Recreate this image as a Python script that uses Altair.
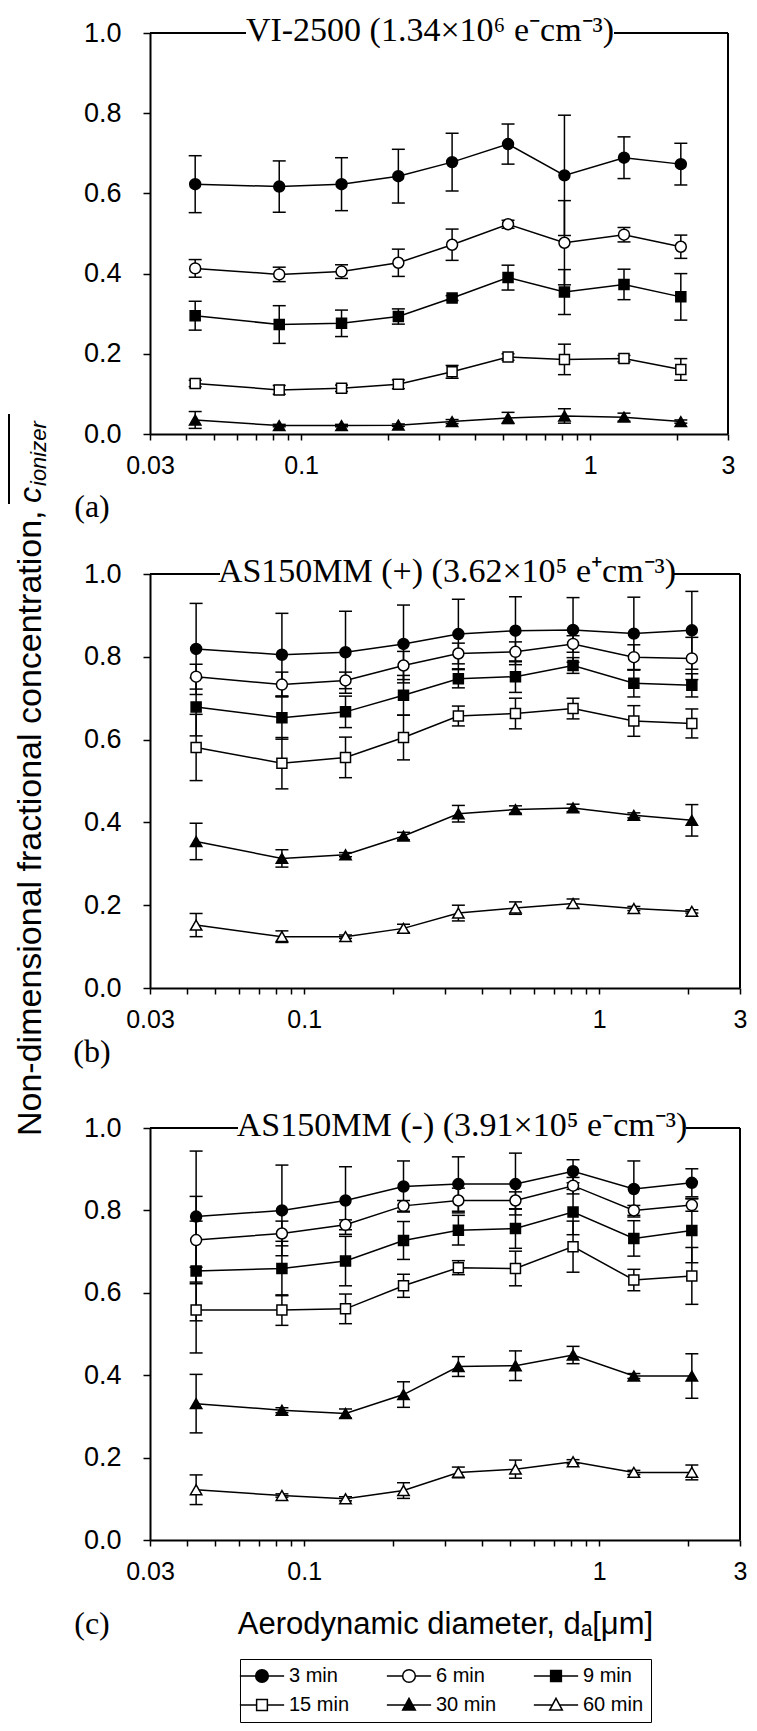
import altair as alt
import pandas as pd

# ---------------- data ----------------
DIAM = [0.043, 0.084, 0.138, 0.217, 0.333, 0.52, 0.815, 1.31, 2.06]
SERIES = ["3 min", "6 min", "9 min", "15 min", "30 min", "60 min"]

A_MEAN = {
    "3 min": [0.623, 0.617, 0.623, 0.643, 0.678, 0.723, 0.645, 0.689, 0.673],
    "6 min": [0.413, 0.398, 0.405, 0.427, 0.472, 0.523, 0.477, 0.497, 0.467],
    "9 min": [0.295, 0.273, 0.276, 0.293, 0.339, 0.390, 0.354, 0.373, 0.342],
    "15 min": [0.126, 0.110, 0.114, 0.124, 0.155, 0.192, 0.186, 0.188, 0.161],
    "30 min": [0.035, 0.021, 0.021, 0.022, 0.031, 0.040, 0.045, 0.042, 0.031],
}
A_ERR = {
    "3 min": [0.071, 0.064, 0.066, 0.067, 0.072, 0.050, 0.150, 0.052, 0.052],
    "6 min": [0.022, 0.018, 0.017, 0.034, 0.039, 0.010, 0.105, 0.018, 0.029],
    "9 min": [0.036, 0.047, 0.033, 0.019, 0.006, 0.031, 0.056, 0.038, 0.058],
    "15 min": [0.008, 0.011, 0.008, 0.011, 0.016, 0.008, 0.038, 0.008, 0.027],
    "30 min": [0.021, 0.003, 0.003, 0.003, 0.005, 0.014, 0.018, 0.010, 0.004],
}
B_MEAN = {
    "3 min": [0.819, 0.805, 0.811, 0.831, 0.855, 0.863, 0.865, 0.856, 0.864],
    "6 min": [0.752, 0.733, 0.743, 0.779, 0.808, 0.812, 0.831, 0.799, 0.796],
    "9 min": [0.679, 0.653, 0.667, 0.707, 0.747, 0.752, 0.779, 0.736, 0.731],
    "15 min": [0.581, 0.543, 0.557, 0.605, 0.657, 0.663, 0.675, 0.645, 0.639],
    "30 min": [0.354, 0.313, 0.322, 0.367, 0.421, 0.431, 0.435, 0.417, 0.405],
    "60 min": [0.152, 0.124, 0.124, 0.144, 0.181, 0.193, 0.204, 0.192, 0.185],
}
B_ERR = {
    "3 min": [0.110, 0.100, 0.099, 0.094, 0.084, 0.082, 0.078, 0.088, 0.094],
    "6 min": [0.030, 0.030, 0.020, 0.034, 0.025, 0.024, 0.020, 0.030, 0.051],
    "9 min": [0.070, 0.052, 0.038, 0.048, 0.022, 0.038, 0.019, 0.033, 0.028],
    "15 min": [0.080, 0.062, 0.049, 0.054, 0.024, 0.037, 0.025, 0.037, 0.035],
    "30 min": [0.044, 0.021, 0.005, 0.009, 0.020, 0.009, 0.009, 0.006, 0.038],
    "60 min": [0.028, 0.014, 0.004, 0.010, 0.019, 0.015, 0.011, 0.005, 0.004],
}
C_MEAN = {
    "3 min": [0.785, 0.800, 0.824, 0.858, 0.864, 0.864, 0.895, 0.852, 0.867],
    "6 min": [0.728, 0.744, 0.765, 0.811, 0.824, 0.824, 0.860, 0.800, 0.813],
    "9 min": [0.653, 0.659, 0.677, 0.727, 0.752, 0.756, 0.796, 0.732, 0.751],
    "15 min": [0.558, 0.558, 0.561, 0.617, 0.661, 0.659, 0.712, 0.631, 0.641],
    "30 min": [0.331, 0.315, 0.307, 0.353, 0.421, 0.423, 0.449, 0.398, 0.398],
    "60 min": [0.122, 0.108, 0.100, 0.120, 0.164, 0.172, 0.190, 0.164, 0.164],
}
C_ERR = {
    "3 min": [0.159, 0.110, 0.082, 0.062, 0.066, 0.075, 0.028, 0.068, 0.034],
    "6 min": [0.106, 0.030, 0.012, 0.013, 0.030, 0.021, 0.020, 0.012, 0.015],
    "9 min": [0.121, 0.066, 0.060, 0.046, 0.036, 0.048, 0.055, 0.043, 0.078],
    "15 min": [0.104, 0.037, 0.036, 0.028, 0.017, 0.042, 0.062, 0.026, 0.069],
    "30 min": [0.071, 0.006, 0.011, 0.031, 0.024, 0.036, 0.021, 0.006, 0.054],
    "60 min": [0.036, 0.004, 0.005, 0.019, 0.013, 0.022, 0.005, 0.005, 0.018],
}

TITLES = [
    "VI-2500 (1.34×10⁶ e⁻cm⁻³)",
    "AS150MM (+) (3.62×10⁵ e⁺cm⁻³)",
    "AS150MM (-) (3.91×10⁵ e⁻cm⁻³)",
]
TAGS = ["(a)", "(b)", "(c)"]
XTICKS = [0.03, 0.04, 0.05, 0.06, 0.07, 0.08, 0.09, 0.1, 0.2, 0.3, 0.4, 0.5,
          0.6, 0.7, 0.8, 0.9, 1, 2, 3]
XLABELED = [0.03, 0.1, 1, 3]
YTICKS = [0.0, 0.2, 0.4, 0.6, 0.8, 1.0]
X_TITLE = "Aerodynamic diameter, dₐ[μm]"
Y_TITLE = "Non-dimensional fractional concentration,"
Y_SYM = "c"
Y_SUB = "ionizer"

# ---------------- styling ----------------
SANS = "Liberation Sans, Arial, Helvetica, sans-serif"
SERIF = "Liberation Serif, Times New Roman, serif"
SHAPES = ["circle", "circle", "square", "square", "triangle-up", "triangle-up"]
FILLS = ["black", "white", "black", "white", "black", "white"]
SIZES = [120, 120, 100, 100, 130, 130]
LEG_PATHS = [
    "M-1,0A1,1,0,1,1,1,0A1,1,0,1,1,-1,0Z M-3.5,0H-1 M1,0H3.5",
    "M-1,0A1,1,0,1,1,1,0A1,1,0,1,1,-1,0Z M-3.5,0H-1 M1,0H3.5",
    "M-0.85,-0.85H0.85V0.85H-0.85Z M-3.5,0H-0.85 M0.85,0H3.5",
    "M-0.85,-0.85H0.85V0.85H-0.85Z M-3.5,0H-0.85 M0.85,0H3.5",
    "M0,-1.05L1,0.8H-1Z M-3.5,0H-0.57 M0.57,0H3.5",
    "M0,-1.05L1,0.8H-1Z M-3.5,0H-0.57 M0.57,0H3.5",
]

XLAB_EXPR = ("indexof([" + ",".join(str(v) for v in XLABELED) +
             "], datum.value) >= 0 ? format(datum.value, '~g') : ''")


def long_df(mean, err):
    rows = []
    for s in SERIES:
        if s not in mean:
            continue
        for d, v, e in zip(DIAM, mean[s], err[s]):
            rows.append({"d": d, "series": s, "v": v, "lo": v - e, "hi": v + e})
    return pd.DataFrame(rows)


def panel(df, title, tag, W, H, gap, title_x, tag_y, x_title=None, extras=None):
    xaxis_kw = dict(values=XTICKS, labelExpr=XLAB_EXPR, labelOverlap=False,
                    labelFlush=False, tickSize=6, tickWidth=1.5, domainWidth=2,
                    labelPadding=13, labelFont=SANS, labelFontSize=25,
                    grid=False)
    if x_title:
        xaxis_kw.update(title=x_title, titleFont=SANS, titleFontSize=31,
                        titleFontWeight="normal", titleY=93,
                        titleBaseline="alphabetic", titleColor="black")
    else:
        xaxis_kw.update(title=None)
    xenc = alt.X("d:Q", scale=alt.Scale(type="log", domain=[0.03, 3]),
                 axis=alt.Axis(**xaxis_kw))
    yscale = alt.Scale(domain=[0, 1], nice=False)
    yaxis = alt.Axis(values=YTICKS, format=".1f", tickSize=7, tickWidth=1.5,
                     domainWidth=2, labelPadding=22, labelFont=SANS,
                     labelFontSize=27, title=None, grid=False)

    def ye(f):
        return alt.Y(f, scale=yscale, axis=yaxis)

    base = alt.Chart(df)
    bars = base.mark_rule(color="black", strokeWidth=1.5).encode(
        x=xenc, y=ye("lo:Q"), y2="hi:Q")
    cap_lo = base.mark_tick(orient="horizontal", color="black", size=13,
                            thickness=1.5, opacity=1).encode(x=xenc, y=ye("lo:Q"))
    cap_hi = base.mark_tick(orient="horizontal", color="black", size=13,
                            thickness=1.5, opacity=1).encode(x=xenc, y=ye("hi:Q"))
    line = base.mark_line(color="black", strokeWidth=1.5).encode(
        x=xenc, y=ye("v:Q"), detail="series:N", order="d:Q")
    pts = []
    for i, s in enumerate(SERIES):
        if s not in set(df["series"]):
            continue
        pts.append(base.transform_filter(alt.datum.series == s).mark_point(
            shape=SHAPES[i], filled=True, fill=FILLS[i], stroke="black",
            strokeWidth=1.5, size=SIZES[i], opacity=1).encode(x=xenc, y=ye("v:Q")))

    one = alt.Chart(pd.DataFrame({"t": [title], "g": [tag]}))
    frame_l = one.mark_rule(color="black", strokeWidth=2).encode(
        x=alt.value(0), x2=alt.value(gap[0]), y=alt.value(0))
    frame_r = one.mark_rule(color="black", strokeWidth=2).encode(
        x=alt.value(gap[1]), x2=alt.value(W), y=alt.value(0))
    frame_side = one.mark_rule(color="black", strokeWidth=2).encode(
        x=alt.value(W), y=alt.value(0), y2=alt.value(H))
    ttl = one.mark_text(font=SERIF, fontSize=34, align="center",
                        baseline="alphabetic", color="black").encode(
        text="t:N", x=alt.value(title_x), y=alt.value(8))
    tg = one.mark_text(font=SERIF, fontSize=32, align="center",
                       baseline="middle", color="black").encode(
        text="g:N", x=alt.value(-58), y=alt.value(H + tag_y))

    layers = [bars, cap_lo, cap_hi, line] + pts + [frame_l, frame_r, frame_side, ttl, tg]
    if extras:
        layers += extras
    return alt.layer(*layers).properties(width=W, height=H)


W_A, H_A = 578, 401
W_B, H_B = 590, 414
W_C, H_C = 590, 412
SPACING = 140

# y-axis title (placed relative to the middle panel)
ytxt = alt.Chart(pd.DataFrame({"a": [Y_TITLE], "b": [Y_SYM], "c": [Y_SUB]}))
ytitle = [
    ytxt.mark_text(font=SANS, fontSize=34, angle=270, align="left",
                   baseline="alphabetic", color="black").encode(
        text="a:N", x=alt.value(-109), y=alt.value(562)),
    ytxt.mark_text(font=SANS, fontSize=32, fontStyle="italic", angle=270,
                   align="left", baseline="alphabetic", color="black").encode(
        text="b:N", x=alt.value(-109), y=alt.value(-71)),
    ytxt.mark_text(font=SANS, fontSize=22, fontStyle="italic", angle=270,
                   align="left", baseline="alphabetic", color="black").encode(
        text="c:N", x=alt.value(-104), y=alt.value(-88)),
    ytxt.mark_rule(color="black", strokeWidth=2).encode(
        x=alt.value(-141), y=alt.value(-160), y2=alt.value(-70)),
]

# legend (positioned relative to the top-left of the first panel)
LEG_Y = H_A + SPACING + H_B + SPACING + H_C + 119
LEG = alt.Legend(orient="none", legendX=90, legendY=LEG_Y, columns=3,
                 direction="horizontal", title=None, gridAlign="all",
                 labelFont=SANS, labelFontSize=20, labelColor="black",
                 symbolSize=160, symbolStrokeWidth=1.5, symbolStrokeColor="black",
                 symbolOffset=5, labelOffset=17, rowPadding=9,
                 columnPadding=33, padding=7, strokeColor="black",
                 fillColor="white", symbolOpacity=1)
leg_layer = alt.Chart(pd.DataFrame({"key": SERIES})).transform_filter(
    "datum.key == 'none'").mark_point(filled=True, strokeWidth=1.5).encode(
    shape=alt.Shape("key:N", scale=alt.Scale(domain=SERIES, range=LEG_PATHS), legend=LEG),
    fill=alt.Fill("key:N", scale=alt.Scale(domain=SERIES, range=FILLS), legend=LEG),
    stroke=alt.Stroke("key:N", scale=alt.Scale(domain=SERIES, range=["black"] * 6), legend=LEG),
)

pa = panel(long_df(A_MEAN, A_ERR), TITLES[0], TAGS[0], W_A, H_A, (96, 464), 280, 73)
pb = panel(long_df(B_MEAN, B_ERR), TITLES[1], TAGS[1], W_B, H_B, (70, 524), 297, 64,
           extras=ytitle)
pc = panel(long_df(C_MEAN, C_ERR), TITLES[2], TAGS[2], W_C, H_C, (88, 536), 312, 84,
           x_title=X_TITLE, extras=[leg_layer])

chart = alt.vconcat(pa, pb, pc, spacing=SPACING, bounds="flush").resolve_scale(
    x="independent", y="independent").properties(
    padding={"left": 0, "top": 6, "right": 0, "bottom": 0},
    background="white").configure_view(strokeWidth=0).configure_axis(
    labelColor="black", tickColor="black", domainColor="black")

chart.save("out.html", embed_options={"renderer": "svg", "actions": False})
